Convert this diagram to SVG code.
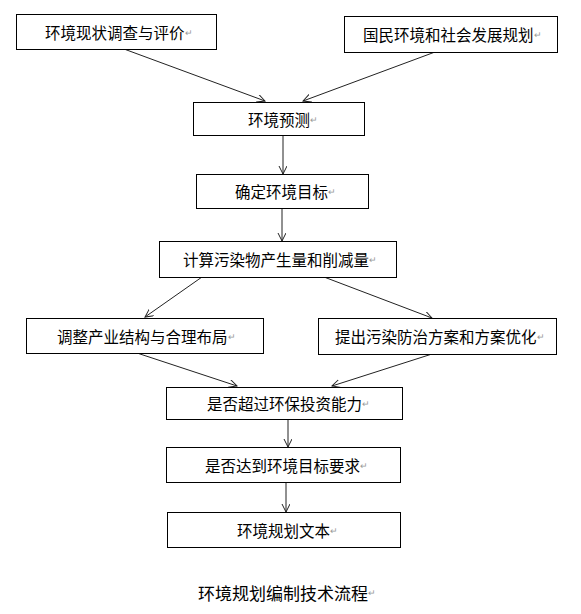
<svg xmlns="http://www.w3.org/2000/svg" width="581" height="614" viewBox="0 0 581 614">
<defs>
<style>
.box{fill:#fff;stroke:#000;stroke-width:1}
.t{font-family:"Noto Sans CJK SC","Liberation Sans",sans-serif;font-size:15.5px;fill:#000;dominant-baseline:central}
.r{font-size:9px;fill:#999}
.ttl{font-family:"Noto Sans CJK SC","Liberation Sans",sans-serif;font-size:17px;fill:#000;dominant-baseline:central}
.c{stroke:#222;stroke-width:1;fill:none;marker-end:url(#ah)}
</style>
<marker id="ah" markerUnits="userSpaceOnUse" markerWidth="10" markerHeight="10" refX="8" refY="4" orient="auto">
<path d="M0,0 L8,4 L0,8" fill="none" stroke="#222" stroke-width="1"/>
</marker>
</defs>
<rect width="581" height="614" fill="#fff"/>
<g id="connectors">
<line class="c" x1="124" y1="49" x2="265" y2="101"/>
<line class="c" x1="435" y1="52" x2="303" y2="101"/>
<line class="c" x1="283" y1="135" x2="283" y2="174"/>
<line class="c" x1="282" y1="208" x2="282" y2="241"/>
<line class="c" x1="202" y1="277" x2="145" y2="317"/>
<line class="c" x1="324" y1="277" x2="432" y2="318"/>
<line class="c" x1="137" y1="353" x2="237" y2="386"/>
<line class="c" x1="432" y1="354" x2="332" y2="386"/>
<line class="c" x1="288" y1="419" x2="288" y2="447"/>
<line class="c" x1="286" y1="482" x2="286" y2="512"/>
</g>
<g id="n1"><rect class="box" x="16.5" y="14.5" width="200" height="35"/><text class="t" x="45" y="32">环境现状调查与评价<tspan class="r">↵</tspan></text></g>
<g id="n2"><rect class="box" x="344.5" y="16.5" width="213" height="36"/><text class="t" x="363" y="34">国民环境和社会发展规划<tspan class="r">↵</tspan></text></g>
<g id="n3"><rect class="box" x="193.5" y="102.5" width="171" height="33"/><text class="t" x="248" y="119">环境预测<tspan class="r">↵</tspan></text></g>
<g id="n4"><rect class="box" x="196.5" y="174.5" width="172" height="34"/><text class="t" x="235" y="191">确定环境目标<tspan class="r">↵</tspan></text></g>
<g id="n5"><rect class="box" x="159.5" y="241.5" width="237" height="36"/><text class="t" x="183" y="259">计算污染物产生量和削减量<tspan class="r">↵</tspan></text></g>
<g id="n6"><rect class="box" x="26.5" y="318.5" width="237" height="35"/><text class="t" x="57" y="336">调整产业结构与合理布局<tspan class="r">↵</tspan></text></g>
<g id="n7"><rect class="box" x="318.5" y="318.5" width="238" height="36"/><text class="t" x="335" y="336">提出污染防治方案和方案优化<tspan class="r">↵</tspan></text></g>
<g id="n8"><rect class="box" x="166.5" y="387.5" width="236" height="32"/><text class="t" x="207" y="403">是否超过环保投资能力<tspan class="r">↵</tspan></text></g>
<g id="n9"><rect class="box" x="166.5" y="447.5" width="234" height="35"/><text class="t" x="205" y="465">是否达到环境目标要求<tspan class="r">↵</tspan></text></g>
<g id="n10"><rect class="box" x="167.5" y="512.5" width="233" height="35"/><text class="t" x="237" y="530">环境规划文本<tspan class="r">↵</tspan></text></g>
<g id="title"><text class="ttl" x="198" y="592">环境规划编制技术流程<tspan class="r">↵</tspan></text></g>
</svg>
